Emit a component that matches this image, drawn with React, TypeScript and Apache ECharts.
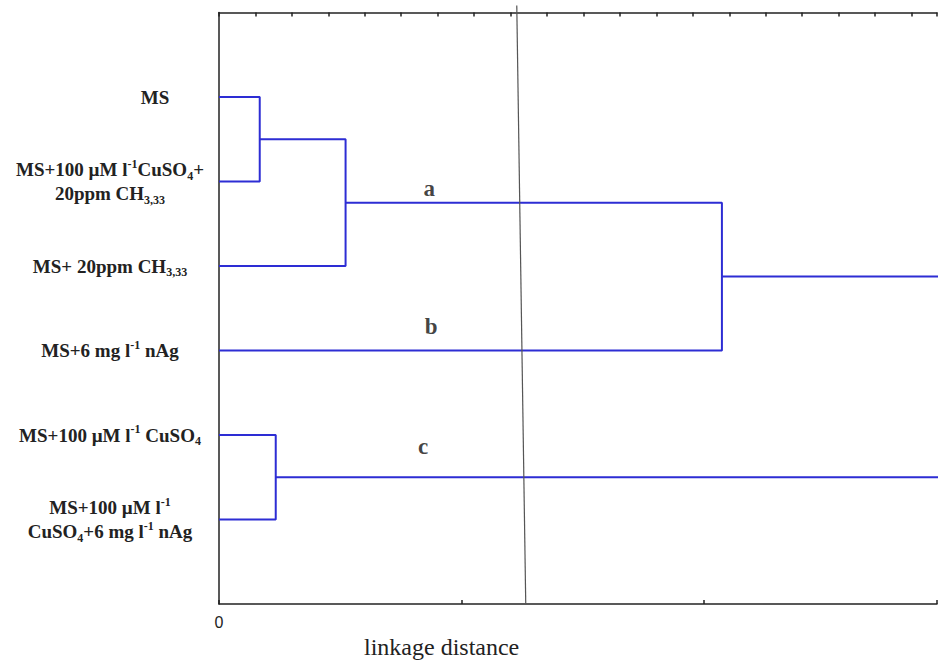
import React, { useEffect, useRef } from "react";
import * as echarts from "echarts";

// Leaf labels (top to bottom), as rich text
const leafLabels = [
  "{ms|MS}",
  "{b|MS+100 µM l}{sup|-1}{b|CuSO}{sub|4}{b|+}\n{b|20ppm CH}{sub|3,33}",
  "{b|MS+ 20ppm CH}{sub|3,33}",
  "{b|MS+6 mg l}{sup|-1}{b| nAg}",
  "{b|MS+100 µM l}{sup|-1}{b| CuSO}{sub|4}",
  "{b|MS+100 µM l}{sup|-1}\n{b|CuSO}{sub|4}{b|+6 mg l}{sup|-1}{b| nAg}",
];

// Linkage: [childA, childB, height]; new nodes numbered after the leaves
const merges: [number, number, number][] = [
  [0, 1, 0.168],
  [4, 5, 0.234],
  [6, 2, 0.522],
  [8, 3, 2.074],
  [9, 7, 3.3],
];

// Cluster tags: [tag, linkage distance, row]
const clusterTags: [string, number, number][] = [
  ["a", 0.867, 2.08],
  ["b", 0.875, 3.72],
  ["c", 0.842, 5.14],
];

// Cut-off line: [distance, row] at top and bottom
const cutLine: [number, number][] = [
  [1.228, -0.083],
  [1.265, 7],
];

const bottomMax = 2.961;
const topMax = 19.7;

export default function App() {
  const ref = useRef<HTMLDivElement>(null);
  useEffect(() => {
    document.body.style.margin = "0";
    const chart = echarts.init(ref.current!, undefined, { renderer: "svg" });

    const nodeY: number[] = leafLabels.map((_, i) => i + 1);
    const nodeH: number[] = leafLabels.map(() => 0);
    const linkSeries: any[] = [];
    merges.forEach(([a, b, h]) => {
      const ya = nodeY[a];
      const yb = nodeY[b];
      linkSeries.push({
        type: "line",
        xAxisIndex: 0,
        yAxisIndex: 0,
        data: [
          [nodeH[a], ya],
          [h, ya],
          [h, yb],
          [nodeH[b], yb],
        ],
        symbol: "none",
        silent: true,
        clip: true,
        lineStyle: { color: "#2d2dd4", width: 2 },
      });
      nodeY.push((ya + yb) / 2);
      nodeH.push(h);
    });

    const serif = "Liberation Serif";

    chart.setOption({
      animation: false,
      backgroundColor: "#ffffff",
      grid: { left: 219, right: 0, top: 12.5, bottom: 56 },
      xAxis: [
        {
          type: "value",
          position: "bottom",
          min: 0,
          max: bottomMax,
          interval: 1,
          axisLine: { show: true, onZero: false, lineStyle: { color: "#222", width: 1.5 } },
          axisTick: { show: true, inside: true, length: 4, lineStyle: { color: "#222", width: 1.5 } },
          axisLabel: {
            show: true,
            margin: 10,
            fontFamily: "Liberation Sans",
            fontSize: 16,
            color: "#222",
            formatter: (v: number) => (v === 0 ? "0" : ""),
          },
          splitLine: { show: false },
        },
        {
          type: "value",
          position: "top",
          min: 0,
          max: topMax,
          interval: 1,
          axisLine: { show: true, onZero: false, lineStyle: { color: "#222", width: 1.5 } },
          axisTick: { show: true, inside: true, length: 4, lineStyle: { color: "#222", width: 1.5 } },
          axisLabel: { show: false },
          splitLine: { show: false },
        },
      ],
      yAxis: {
        type: "value",
        min: 0,
        max: 7,
        interval: 1,
        inverse: true,
        axisLine: { show: true, onZero: false, lineStyle: { color: "#222", width: 1.5 } },
        axisTick: { show: false },
        splitLine: { show: false },
        axisLabel: {
          show: true,
          align: "center",
          margin: 109,
          fontFamily: serif,
          fontWeight: "bold",
          formatter: (v: number) => (v >= 1 && v <= leafLabels.length ? leafLabels[v - 1] : ""),
          rich: {
            ms: { fontFamily: serif, fontWeight: "bold", fontSize: 19, lineHeight: 24, color: "#222", padding: [0, 0, 0, 90] },
            b: { fontFamily: serif, fontWeight: "bold", fontSize: 19, lineHeight: 24, color: "#222" },
            sup: { fontFamily: serif, fontWeight: "bold", fontSize: 12, lineHeight: 16, verticalAlign: "top", color: "#222" },
            sub: { fontFamily: serif, fontWeight: "bold", fontSize: 12, lineHeight: 14, verticalAlign: "bottom", color: "#222" },
          },
        },
      },
      series: [
        ...linkSeries,
        {
          type: "line",
          xAxisIndex: 0,
          yAxisIndex: 0,
          data: cutLine,
          symbol: "none",
          silent: true,
          clip: false,
          lineStyle: { color: "#555", width: 1.2 },
        },
        {
          type: "scatter",
          xAxisIndex: 0,
          yAxisIndex: 0,
          data: clusterTags.map(([t, x, y]) => ({ value: [x, y], name: t })),
          symbolSize: 1,
          silent: true,
          itemStyle: { color: "rgba(0,0,0,0)" },
          label: {
            show: true,
            position: "inside",
            formatter: (p: any) => p.name,
            fontFamily: serif,
            fontWeight: "bold",
            fontSize: 23,
            color: "#111",
          },
        },
      ],
      graphic: [
        {
          type: "text",
          left: 364,
          top: 635,
          style: {
            text: "linkage distance",
            fontFamily: serif,
            fontSize: 24,
            fill: "#222",
          },
        },
      ],
    });
    return () => chart.dispose();
  }, []);
  return <div ref={ref} style={{ width: 940, height: 660 }} />;
}
